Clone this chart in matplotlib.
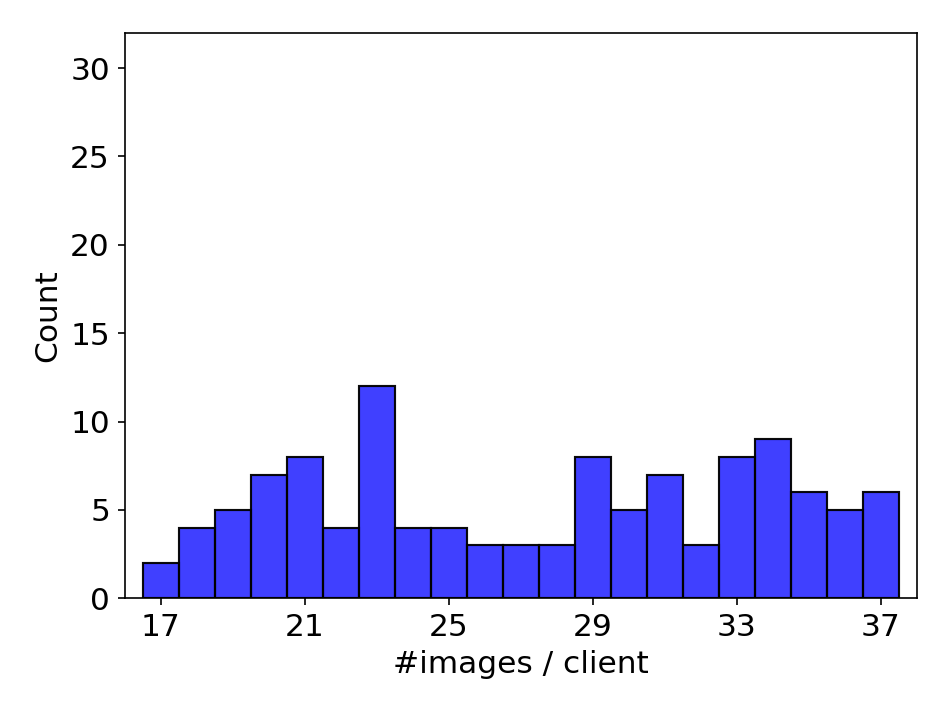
import matplotlib
matplotlib.use("Agg")
import matplotlib.pyplot as plt

# histogram counts per #images/client
images_per_client = [17, 18, 19, 20, 21, 22, 23, 24, 25, 26, 27,
                     28, 29, 30, 31, 32, 33, 34, 35, 36, 37]
counts = [2, 4, 5, 7, 8, 4, 12, 4, 4, 3, 3,
          3, 8, 5, 7, 3, 8, 9, 6, 5, 6]
xticks = [17, 21, 25, 29, 33, 37]
yticks = [0, 5, 10, 15, 20, 25, 30]

plt.rcParams["font.family"] = ["DejaVu Sans"]

fig = plt.figure(figsize=(951 / 150, 713 / 150), dpi=150)
ax = fig.add_axes([0.131, 0.161, 0.833, 0.793])

ax.bar(images_per_client, counts, width=1.0, color="blue", alpha=0.75,
       edgecolor="black", linewidth=1.0)
# redraw edges at full opacity-ish like seaborn
ax.bar(images_per_client, counts, width=1.0, fill=False,
       edgecolor=(0, 0, 0, 0.8), linewidth=1.0)

ax.set_xlim(16, 38)
ax.set_ylim(0, 32)
ax.set_xticks(xticks)
ax.set_yticks(yticks)
ax.tick_params(labelsize=15)
ax.set_xlabel("#images / client", fontsize=15)
ax.set_ylabel("Count", fontsize=15)

fig.savefig("out.png", dpi=150)
